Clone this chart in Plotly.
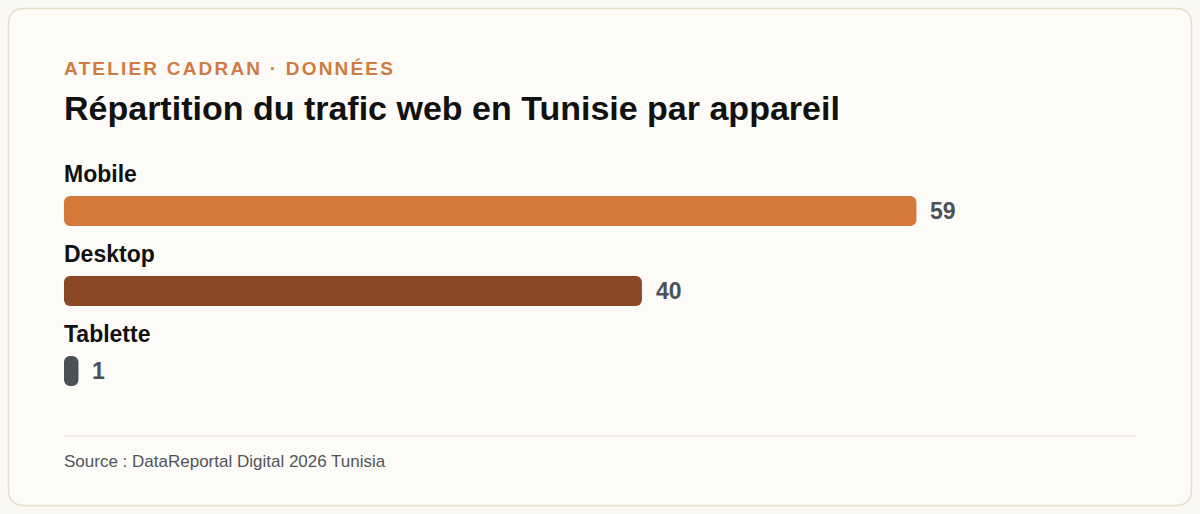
import plotly.graph_objects as go

# Données
categories = ["Mobile", "Desktop", "Tablette"]
parts = [59, 40, 1]
couleurs = ["#d4783c", "#8b4827", "#4b5159"]

kicker = "ATELIER CADRAN · DONNÉES"
titre = "Répartition du trafic web en Tunisie par appareil"
source = "Source : DataReportal Digital 2026 Tunisia"

W, H = 1200, 514
ML, MR, MT, MB = 64, 64, 171, 103
PW, PH = W - ML - MR, H - MT - MB
FONT = "Liberation Sans, Arial, sans-serif"


# pixel -> coordonnées paper
def px(x):
    return (x - ML) / PW


def py(y):
    return (H - MB - y) / PH


def rounded_rect(x0, y0, x1, y1, r):
    return (f"M {px(x0 + r)},{py(y0)} L {px(x1 - r)},{py(y0)} "
            f"Q {px(x1)},{py(y0)} {px(x1)},{py(y0 + r)} "
            f"L {px(x1)},{py(y1 - r)} Q {px(x1)},{py(y1)} {px(x1 - r)},{py(y1)} "
            f"L {px(x0 + r)},{py(y1)} Q {px(x0)},{py(y1)} {px(x0)},{py(y1 - r)} "
            f"L {px(x0)},{py(y0 + r)} Q {px(x0)},{py(y0)} {px(x0 + r)},{py(y0)} Z")


ypos = list(range(len(categories)))

fig = go.Figure()

# barre tracée de la valeur vers 0 (base = valeur) : coins arrondis aux deux bouts
fig.add_bar(
    x=[-v for v in parts], base=parts, y=ypos, orientation="h", width=0.375,
    marker=dict(color=couleurs, cornerradius=6, line=dict(width=0)),
    hoverinfo="skip",
)

# étiquettes des catégories et valeurs
for i, (cat, val) in enumerate(zip(categories, parts)):
    fig.add_annotation(x=0, xref="paper", y=i, yref="y", yshift=37, xshift=-2,
                       text=f"<b>{cat}</b>", showarrow=False,
                       xanchor="left", yanchor="middle",
                       font=dict(size=23, color="#111111", family=FONT))
    fig.add_annotation(x=val, xref="x", y=i, yref="y", xshift=12,
                       text=f"<b>{val}</b>", showarrow=False,
                       xanchor="left", yanchor="middle",
                       font=dict(size=23, color="#4b5159", family=FONT))

fig.add_annotation(x=0, xref="paper", y=py(69), yref="paper", xshift=-2,
                   text=f"<span style='letter-spacing:2.2px'><b>{kicker}</b></span>",
                   showarrow=False, xanchor="left", yanchor="middle",
                   font=dict(size=19, color="#d07b42", family=FONT))
fig.add_annotation(x=0, xref="paper", y=py(108), yref="paper", xshift=-2,
                   text=f"<b>{titre}</b>", showarrow=False,
                   xanchor="left", yanchor="middle",
                   font=dict(size=34, color="#111111", family=FONT))
fig.add_annotation(x=0, xref="paper", y=py(461), yref="paper", xshift=-2,
                   text=source, showarrow=False,
                   xanchor="left", yanchor="middle",
                   font=dict(size=17, color="#50555b", family=FONT))

# carte + séparateur
fig.add_shape(type="path", xref="paper", yref="paper", layer="below",
              path=rounded_rect(8.5, 8.5, 1191.5, 505.5, 16),
              fillcolor="#fcfbf7", line=dict(color="#e2dfcb", width=1.5))
fig.add_shape(type="line", xref="paper", yref="paper",
              x0=0, x1=1, y0=py(436), y1=py(436),
              line=dict(color="#ebe8da", width=1.5))

fig.update_xaxes(range=[0, 74.2], visible=False, fixedrange=True)
fig.update_yaxes(range=[2.5, -0.5], visible=False, fixedrange=True)

fig.update_layout(
    width=W, height=H,
    margin=dict(l=ML, r=MR, t=MT, b=MB),
    paper_bgcolor="#f9f8f3", plot_bgcolor="rgba(0,0,0,0)",
    showlegend=False, font=dict(family=FONT),
)

fig.write_html("out.html", config={"displayModeBar": False},
               post_script="document.body.style.margin='0';document.body.style.background='#f9f8f3';")
